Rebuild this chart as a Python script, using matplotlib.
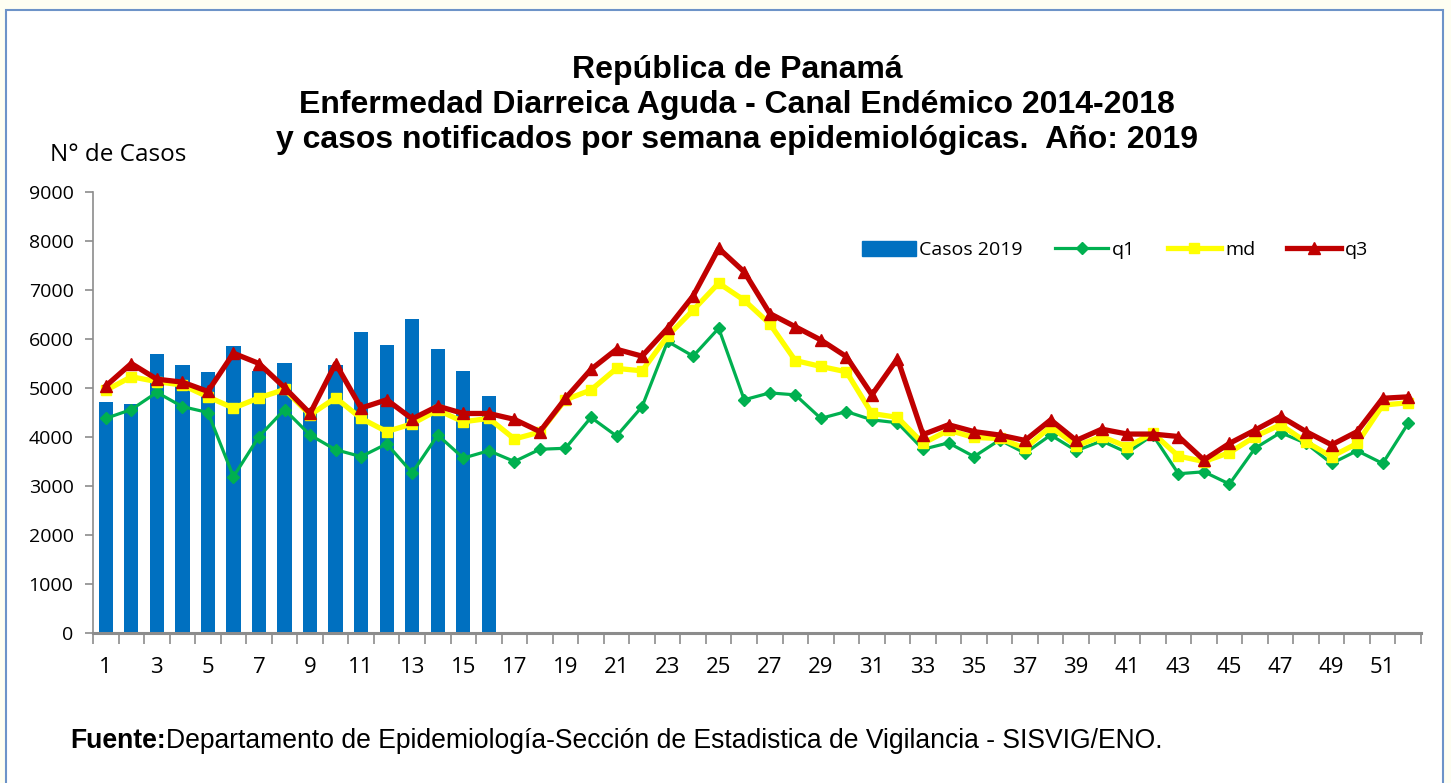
import numpy as np
import matplotlib.pyplot as plt
from matplotlib.patches import Rectangle
from matplotlib.lines import Line2D
from matplotlib.patches import Patch

weeks = list(range(1, 53))
casos_2019 = [4710, 4670, 5690, 5460, 5330, 5860, 5350, 5520, 4600, 5460,
              6140, 5880, 6410, 5790, 5350, 4840]
q1 = [4380, 4560, 4910, 4620, 4500, 3190, 4010, 4560, 4040, 3740, 3600, 3860, 3270,
      4040, 3570, 3720, 3500, 3750, 3770, 4400, 4020, 4620, 5950, 5650, 6220, 4760,
      4900, 4860, 4380, 4520, 4350, 4290, 3750, 3880, 3600, 3940, 3670, 4040, 3720,
      3920, 3680, 4040, 3250, 3290, 3040, 3770, 4090, 3870, 3460, 3720, 3460, 4280]
md = [4950, 5230, 5130, 5060, 4820, 4590, 4800, 4970, 4450, 4800, 4380, 4110, 4270,
      4550, 4310, 4380, 3960, 4100, 4760, 4960, 5400, 5350, 6060, 6590, 7140, 6790,
      6310, 5560, 5440, 5330, 4480, 4400, 3870, 4140, 3990, 3970, 3770, 4210, 3820,
      4010, 3800, 4080, 3610, 3500, 3680, 4010, 4250, 3900, 3600, 3870, 4650, 4700]
q3 = [5040, 5500, 5180, 5120, 4930, 5710, 5500, 5010, 4480, 5500, 4590, 4760, 4370,
      4630, 4480, 4480, 4360, 4110, 4790, 5380, 5790, 5650, 6220, 6880, 7850, 7370,
      6520, 6250, 5980, 5640, 4860, 5600, 4050, 4250, 4110, 4040, 3930, 4350, 3930,
      4160, 4060, 4060, 4010, 3530, 3870, 4140, 4420, 4110, 3840, 4110, 4790, 4820]
yticks = list(range(0, 9001, 1000))
xlabels = [str(w) for w in range(1, 53, 2)]

title = ("República de Panamá\n"
         "Enfermedad Diarreica Aguda - Canal Endémico 2014-2018\n"
         "y casos notificados por semana epidemiológicas.  Año: 2019")

W, H = 1451, 783
fig = plt.figure(figsize=(W / 100, H / 100), dpi=100, facecolor='#fefef2')

# white panel with blue border, behind everything
fig.patches.append(Rectangle((6 / W, -0.05), (1443 - 6) / W, (H - 10) / H + 0.05,
                             transform=fig.transFigure, facecolor='white',
                             edgecolor='#6d93c8', linewidth=1.5, zorder=-5))

ax = fig.add_axes([93 / W, (H - 633) / H, (1421 - 93) / W, (633 - 192) / H])
ax.set_facecolor('none')

ax.bar(weeks[:len(casos_2019)], casos_2019, width=0.56, color='#0070c0', zorder=2)
ax.plot(weeks, q1, color='#00b050', lw=2.3, marker='D', ms=6, zorder=3)
ax.plot(weeks, md, color='#ffff00', lw=3.8, marker='s', ms=7, zorder=4)
ax.plot(weeks, q3, color='#c00000', lw=3.8, marker='^', ms=8, zorder=5)

ax.set_xlim(0.5, 52.5)
ax.set_ylim(0, 9000)
ax.set_yticks(yticks)
tick_font = 'Open Sans'
fs = 14
for lbl in ax.set_yticklabels([str(v) for v in yticks]):
    lbl.set_fontfamily(tick_font)
    lbl.set_fontsize(fs)
ax.tick_params(axis='y', length=6, width=1.2, color='#8c8c8c', pad=8)

ax.set_xticks(np.arange(0.5, 53, 1))
ax.set_xticklabels([])
ax.tick_params(axis='x', which='major', length=8, width=1.2, color='#8c8c8c')
ax.set_xticks(list(range(1, 53, 2)), minor=True)
ax.set_xticklabels(xlabels, minor=True, fontfamily=tick_font, fontsize=16)
ax.tick_params(axis='x', which='minor', length=0, pad=17)

for s in ['top', 'right']:
    ax.spines[s].set_visible(False)
ax.spines['left'].set_color('#8c8c8c')
ax.spines['left'].set_linewidth(1.2)
ax.spines['bottom'].set_color('#8c8c8c')
ax.spines['bottom'].set_linewidth(2.2)

handles = [Patch(facecolor='#0070c0', edgecolor='#0070c0'),
           Line2D([], [], color='#00b050', lw=2.3, marker='D', ms=6),
           Line2D([], [], color='#ffff00', lw=3.8, marker='s', ms=7),
           Line2D([], [], color='#c00000', lw=3.8, marker='^', ms=8)]
leg = fig.legend(handles, ['Casos 2019', 'q1', 'md', 'q3'], ncol=4, frameon=False,
                 loc='center', bbox_to_anchor=(1115 / W, 1 - 250 / H),
                 prop={'family': tick_font, 'size': fs},
                 handlelength=2.75, handleheight=0.85, handletextpad=0.2,
                 columnspacing=1.65)

fig.text(737 / W, 1 - 105 / H, title, ha='center', va='center',
         fontfamily='Liberation Sans', fontweight='bold', fontsize=23,
         linespacing=1.2)
fig.text(50 / W, 1 - 155 / H, 'N° de Casos', ha='left', va='center',
         fontfamily=tick_font, fontsize=17.5)

t1 = fig.text(70 / W, 1 - 741 / H, 'Fuente:', ha='left', va='center',
              fontfamily='Liberation Sans', fontweight='bold', fontsize=19.1)
fig.canvas.draw()
bb = t1.get_window_extent(renderer=fig.canvas.get_renderer())
fig.text(bb.x1 / W, 1 - 741 / H,
         'Departamento de Epidemiología-Sección de Estadistica de Vigilancia - SISVIG/ENO.',
         ha='left', va='center', fontfamily='Liberation Sans', fontsize=19.1)

fig.savefig('out.png', dpi=100, facecolor=fig.get_facecolor())
